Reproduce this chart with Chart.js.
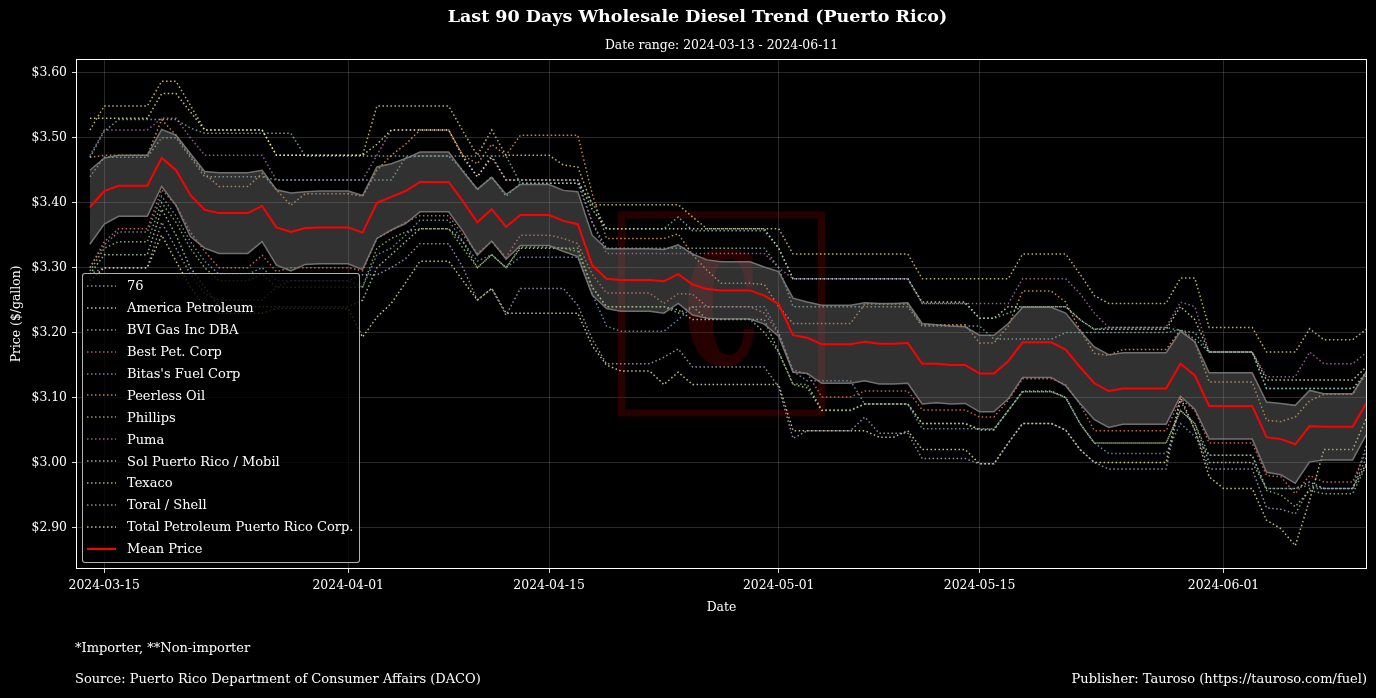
<!DOCTYPE html>
<html>
<head>
<meta charset="utf-8">
<title>Last 90 Days Wholesale Diesel Trend (Puerto Rico)</title>
<script src="https://cdn.jsdelivr.net/npm/chart.js@4.4.1/dist/chart.umd.min.js"></script>
<style>
  html, body { margin: 0; padding: 0; background: #000; }
  #wrap { position: relative; width: 1376px; height: 698px; background: #000; overflow: hidden; }
  #chart { position: absolute; left: 0; top: 0; }
  .note { position: absolute; color: #fff; font: 13px 'DejaVu Serif', serif; line-height: 15px; white-space: nowrap; }
  #legend {
    position: absolute; box-sizing: border-box; width: 278px;
    background: rgba(0, 0, 0, 0.8); border: 1px solid rgba(220, 220, 220, 0.8); border-radius: 3px;
    padding: 1px 0 2px 0; color: #fff; font: 13px 'DejaVu Serif', serif;
  }
  #legend .row { display: flex; align-items: center; height: 21.9px; white-space: nowrap; }
  #legend svg { margin-left: 4px; margin-right: 11px; flex: none; }
</style>
</head>
<body>
<div id="wrap">
  <canvas id="chart" width="1376" height="698"></canvas>
  <div id="legend"></div>
  <div class="note" style="left:75px; top:640px;">*Importer, **Non-importer</div>
  <div class="note" style="left:75px; top:671px;">Source: Puerto Rico Department of Consumer Affairs (DACO)</div>
  <div class="note" style="right:9px; top:671px;">Publisher: Tauroso (https://tauroso.com/fuel)</div>
</div>
<script>
// day 0 = 2024-03-14, one value per day up to 2024-06-11
const tickDays = [1, 18, 32, 48, 62, 79];
const tickLabels = ['2024-03-15', '2024-04-01', '2024-04-15', '2024-05-01', '2024-05-15', '2024-06-01'];

const seriesNames = ['76', 'America Petroleum', 'BVI Gas Inc DBA', 'Best Pet. Corp', "Bitas's Fuel Corp",
    'Peerless Oil', 'Phillips', 'Puma', 'Sol Puerto Rico / Mobil', 'Texaco', 'Toral / Shell',
    'Total Petroleum Puerto Rico Corp.'];
const palette = ['#8dd3c7', '#ffffb3', '#bebada', '#fb8072', '#80b1d3', '#fdb462', '#b3de69', '#bc80bd', '#ccebc5', '#ffed6f'];

const price76 = [
    3.470, 3.510, 3.528, 3.528, 3.528, 3.528, 3.528, 3.515, 3.507, 3.507,
    3.507, 3.507, 3.507, 3.507, 3.507, 3.472, 3.472, 3.472, 3.472, 3.472,
    3.472, 3.472, 3.472, 3.472, 3.472, 3.472, 3.472, 3.472, 3.472, 3.472,
    3.430, 3.430, 3.430, 3.430, 3.430, 3.400, 3.360, 3.360, 3.360, 3.360,
    3.360, 3.378, 3.357, 3.357, 3.357, 3.357, 3.357, 3.357, 3.330, 3.283,
    3.283, 3.283, 3.283, 3.283, 3.283, 3.283, 3.283, 3.283, 3.245, 3.245,
    3.245, 3.245, 3.222, 3.222, 3.230, 3.240, 3.240, 3.240, 3.240, 3.220,
    3.205, 3.208, 3.208, 3.208, 3.208, 3.208, 3.203, 3.200, 3.170, 3.170,
    3.170, 3.170, 3.114, 3.114, 3.114, 3.114, 3.114, 3.114, 3.114, 3.135];
const priceAmerica = [
    3.530, 3.530, 3.530, 3.530, 3.530, 3.568, 3.568, 3.540, 3.512, 3.512,
    3.512, 3.512, 3.512, 3.473, 3.473, 3.473, 3.473, 3.473, 3.473, 3.473,
    3.490, 3.512, 3.512, 3.512, 3.512, 3.512, 3.470, 3.440, 3.470, 3.435,
    3.435, 3.435, 3.435, 3.435, 3.435, 3.390, 3.360, 3.360, 3.360, 3.360,
    3.360, 3.360, 3.360, 3.360, 3.360, 3.360, 3.360, 3.360, 3.330, 3.283,
    3.283, 3.283, 3.283, 3.283, 3.283, 3.283, 3.283, 3.283, 3.247, 3.247,
    3.247, 3.247, 3.222, 3.222, 3.240, 3.240, 3.240, 3.240, 3.240, 3.220,
    3.205, 3.205, 3.205, 3.205, 3.205, 3.205, 3.240, 3.220, 3.170, 3.170,
    3.170, 3.170, 3.127, 3.127, 3.127, 3.127, 3.127, 3.127, 3.127, 3.148];
const priceBvi = [
    3.290, 3.300, 3.300, 3.300, 3.300, 3.370, 3.330, 3.290, 3.260, 3.250,
    3.250, 3.250, 3.250, 3.270, 3.280, 3.280, 3.280, 3.280, 3.280, 3.289,
    3.289, 3.300, 3.314, 3.337, 3.337, 3.337, 3.300, 3.250, 3.268, 3.227,
    3.268, 3.268, 3.268, 3.268, 3.242, 3.190, 3.152, 3.152, 3.152, 3.152,
    3.162, 3.175, 3.147, 3.147, 3.147, 3.147, 3.147, 3.147, 3.116, 3.037,
    3.049, 3.049, 3.049, 3.049, 3.070, 3.045, 3.045, 3.045, 3.006, 3.006,
    3.006, 3.006, 2.998, 2.998, 3.030, 3.060, 3.060, 3.060, 3.050, 3.020,
    3.000, 2.990, 2.990, 2.990, 2.990, 2.990, 3.096, 3.050, 2.990, 2.990,
    2.990, 2.990, 2.930, 2.928, 2.921, 2.960, 2.960, 2.960, 2.960, 3.010];
const priceBest = [
    3.300, 3.340, 3.360, 3.360, 3.360, 3.420, 3.396, 3.355, 3.325, 3.300,
    3.300, 3.300, 3.319, 3.294, 3.300, 3.300, 3.300, 3.300, 3.300, 3.295,
    3.345, 3.357, 3.370, 3.380, 3.380, 3.380, 3.350, 3.322, 3.340, 3.316,
    3.350, 3.350, 3.350, 3.345, 3.337, 3.290, 3.261, 3.261, 3.261, 3.261,
    3.245, 3.260, 3.259, 3.240, 3.240, 3.240, 3.240, 3.230, 3.198, 3.142,
    3.137, 3.101, 3.101, 3.101, 3.110, 3.110, 3.110, 3.110, 3.081, 3.081,
    3.081, 3.081, 3.070, 3.070, 3.096, 3.129, 3.129, 3.129, 3.120, 3.090,
    3.049, 3.049, 3.049, 3.049, 3.049, 3.049, 3.098, 3.080, 3.030, 3.030,
    3.030, 3.030, 2.980, 2.978, 2.952, 2.980, 2.970, 2.970, 2.970, 3.020];
const priceBitas = [
    3.300, 3.335, 3.355, 3.355, 3.355, 3.410, 3.380, 3.340, 3.310, 3.290,
    3.290, 3.290, 3.300, 3.280, 3.280, 3.280, 3.280, 3.280, 3.280, 3.270,
    3.320, 3.330, 3.350, 3.373, 3.373, 3.373, 3.340, 3.310, 3.320, 3.300,
    3.316, 3.316, 3.316, 3.316, 3.316, 3.260, 3.210, 3.202, 3.202, 3.202,
    3.202, 3.220, 3.240, 3.240, 3.240, 3.240, 3.240, 3.240, 3.200, 3.140,
    3.126, 3.126, 3.126, 3.126, 3.090, 3.090, 3.090, 3.090, 3.052, 3.052,
    3.052, 3.052, 3.052, 3.052, 3.080, 3.109, 3.109, 3.109, 3.100, 3.060,
    3.030, 3.014, 3.014, 3.014, 3.014, 3.014, 3.060, 3.040, 3.011, 3.011,
    3.011, 3.011, 2.960, 2.960, 2.960, 2.965, 2.960, 2.960, 2.960, 3.030];
const pricePeerless = [
    3.470, 3.473, 3.473, 3.473, 3.473, 3.528, 3.504, 3.473, 3.445, 3.425,
    3.425, 3.425, 3.445, 3.420, 3.396, 3.414, 3.414, 3.414, 3.414, 3.410,
    3.450, 3.473, 3.490, 3.512, 3.512, 3.512, 3.473, 3.460, 3.490, 3.473,
    3.504, 3.504, 3.504, 3.504, 3.504, 3.414, 3.345, 3.345, 3.345, 3.345,
    3.345, 3.352, 3.320, 3.296, 3.276, 3.276, 3.276, 3.274, 3.240, 3.214,
    3.214, 3.214, 3.214, 3.214, 3.244, 3.244, 3.244, 3.244, 3.212, 3.212,
    3.212, 3.212, 3.184, 3.184, 3.210, 3.264, 3.264, 3.264, 3.247, 3.204,
    3.168, 3.165, 3.174, 3.174, 3.174, 3.174, 3.204, 3.186, 3.124, 3.124,
    3.124, 3.124, 3.065, 3.063, 3.070, 3.095, 3.105, 3.105, 3.105, 3.142];
const pricePhillips = [
    3.295, 3.330, 3.340, 3.340, 3.340, 3.400, 3.370, 3.330, 3.300, 3.280,
    3.280, 3.280, 3.290, 3.270, 3.270, 3.270, 3.270, 3.270, 3.270, 3.270,
    3.330, 3.345, 3.355, 3.360, 3.360, 3.360, 3.330, 3.300, 3.320, 3.300,
    3.332, 3.332, 3.332, 3.330, 3.325, 3.270, 3.240, 3.240, 3.240, 3.240,
    3.240, 3.230, 3.240, 3.221, 3.221, 3.221, 3.221, 3.200, 3.170, 3.121,
    3.120, 3.081, 3.081, 3.081, 3.090, 3.090, 3.090, 3.090, 3.060, 3.060,
    3.060, 3.060, 3.051, 3.051, 3.080, 3.109, 3.109, 3.109, 3.100, 3.060,
    3.030, 3.030, 3.030, 3.030, 3.030, 3.030, 3.080, 3.060, 3.011, 3.011,
    3.011, 3.011, 2.957, 2.950, 2.932, 2.957, 2.952, 2.952, 2.952, 2.998];
const pricePuma = [
    3.473, 3.512, 3.512, 3.512, 3.512, 3.530, 3.530, 3.500, 3.473, 3.473,
    3.473, 3.473, 3.473, 3.435, 3.435, 3.435, 3.435, 3.435, 3.435, 3.435,
    3.473, 3.512, 3.512, 3.512, 3.512, 3.512, 3.473, 3.440, 3.473, 3.435,
    3.435, 3.435, 3.435, 3.435, 3.435, 3.370, 3.322, 3.322, 3.322, 3.322,
    3.322, 3.322, 3.322, 3.322, 3.322, 3.322, 3.322, 3.322, 3.300, 3.283,
    3.283, 3.283, 3.283, 3.283, 3.283, 3.283, 3.283, 3.283, 3.245, 3.245,
    3.245, 3.245, 3.245, 3.245, 3.245, 3.283, 3.283, 3.283, 3.283, 3.260,
    3.230, 3.208, 3.208, 3.208, 3.208, 3.208, 3.247, 3.240, 3.170, 3.170,
    3.170, 3.170, 3.132, 3.132, 3.132, 3.170, 3.152, 3.152, 3.152, 3.170];
const priceSol = [
    3.290, 3.320, 3.320, 3.320, 3.320, 3.390, 3.350, 3.300, 3.270, 3.240,
    3.240, 3.240, 3.240, 3.240, 3.240, 3.240, 3.240, 3.240, 3.240, 3.250,
    3.300, 3.320, 3.340, 3.360, 3.360, 3.360, 3.340, 3.300, 3.320, 3.300,
    3.330, 3.330, 3.330, 3.330, 3.330, 3.270, 3.240, 3.240, 3.240, 3.240,
    3.240, 3.235, 3.220, 3.220, 3.220, 3.220, 3.220, 3.220, 3.170, 3.120,
    3.115, 3.080, 3.080, 3.080, 3.090, 3.090, 3.090, 3.090, 3.060, 3.060,
    3.060, 3.060, 3.050, 3.050, 3.080, 3.110, 3.110, 3.110, 3.100, 3.060,
    3.030, 3.030, 3.030, 3.030, 3.030, 3.030, 3.080, 3.060, 3.000, 3.000,
    3.000, 3.000, 2.960, 2.960, 2.960, 2.970, 2.960, 2.960, 2.960, 3.000];
const priceTexaco = [
    3.512, 3.549, 3.549, 3.549, 3.549, 3.587, 3.587, 3.550, 3.512, 3.512,
    3.512, 3.512, 3.512, 3.473, 3.473, 3.473, 3.473, 3.473, 3.473, 3.473,
    3.549, 3.549, 3.549, 3.549, 3.549, 3.549, 3.510, 3.473, 3.512, 3.473,
    3.473, 3.473, 3.473, 3.458, 3.455, 3.397, 3.397, 3.397, 3.397, 3.397,
    3.397, 3.397, 3.378, 3.360, 3.360, 3.360, 3.360, 3.360, 3.360, 3.321,
    3.321, 3.321, 3.321, 3.321, 3.321, 3.321, 3.321, 3.321, 3.283, 3.283,
    3.283, 3.283, 3.283, 3.283, 3.283, 3.321, 3.321, 3.321, 3.321, 3.290,
    3.257, 3.245, 3.245, 3.245, 3.245, 3.245, 3.284, 3.284, 3.208, 3.208,
    3.208, 3.208, 3.170, 3.170, 3.170, 3.206, 3.189, 3.189, 3.189, 3.206];
const priceToral = [
    3.440, 3.470, 3.470, 3.470, 3.470, 3.500, 3.500, 3.470, 3.440, 3.440,
    3.440, 3.440, 3.440, 3.435, 3.435, 3.435, 3.435, 3.435, 3.435, 3.435,
    3.435, 3.435, 3.470, 3.472, 3.472, 3.472, 3.450, 3.420, 3.440, 3.410,
    3.430, 3.430, 3.430, 3.430, 3.430, 3.370, 3.330, 3.330, 3.330, 3.330,
    3.330, 3.330, 3.330, 3.330, 3.330, 3.330, 3.330, 3.330, 3.300, 3.240,
    3.240, 3.240, 3.240, 3.240, 3.240, 3.240, 3.240, 3.240, 3.210, 3.210,
    3.210, 3.210, 3.210, 3.190, 3.190, 3.190, 3.190, 3.190, 3.200, 3.200,
    3.200, 3.200, 3.200, 3.200, 3.200, 3.200, 3.205, 3.190, 3.170, 3.170,
    3.170, 3.170, 3.114, 3.114, 3.114, 3.114, 3.114, 3.114, 3.114, 3.140];
const priceTotal = [
    3.280, 3.300, 3.300, 3.300, 3.300, 3.350, 3.310, 3.270, 3.240, 3.230,
    3.230, 3.230, 3.230, 3.237, 3.237, 3.237, 3.237, 3.237, 3.237, 3.193,
    3.224, 3.245, 3.277, 3.310, 3.310, 3.310, 3.280, 3.250, 3.268, 3.230,
    3.230, 3.230, 3.230, 3.230, 3.230, 3.180, 3.150, 3.141, 3.141, 3.141,
    3.120, 3.139, 3.120, 3.120, 3.120, 3.120, 3.120, 3.120, 3.120, 3.049,
    3.049, 3.049, 3.049, 3.049, 3.049, 3.039, 3.039, 3.049, 3.020, 3.020,
    3.020, 3.020, 2.998, 2.998, 3.030, 3.060, 3.060, 3.060, 3.050, 3.020,
    3.000, 3.000, 3.000, 3.000, 3.000, 3.000, 3.101, 3.050, 2.978, 2.960,
    2.960, 2.960, 2.911, 2.898, 2.872, 2.942, 3.020, 3.020, 3.020, 3.070];

const meanPrice = [
    3.393, 3.418, 3.426, 3.426, 3.426, 3.469, 3.450, 3.412, 3.389, 3.384,
    3.384, 3.384, 3.395, 3.362, 3.355, 3.361, 3.362, 3.362, 3.362, 3.354,
    3.400, 3.409, 3.418, 3.432, 3.432, 3.432, 3.402, 3.370, 3.390, 3.363,
    3.381, 3.381, 3.381, 3.372, 3.367, 3.304, 3.283, 3.281, 3.281, 3.281,
    3.279, 3.290, 3.274, 3.267, 3.265, 3.265, 3.265, 3.257, 3.244, 3.196,
    3.192, 3.182, 3.182, 3.182, 3.186, 3.183, 3.183, 3.184, 3.152, 3.152,
    3.150, 3.150, 3.137, 3.137, 3.156, 3.185, 3.185, 3.185, 3.174, 3.147,
    3.122, 3.110, 3.114, 3.114, 3.114, 3.114, 3.152, 3.134, 3.087, 3.087,
    3.087, 3.087, 3.039, 3.036, 3.028, 3.056, 3.055, 3.055, 3.055, 3.093];
const stdPrice = [
    0.057, 0.051, 0.047, 0.047, 0.047, 0.044, 0.054, 0.064, 0.059, 0.062,
    0.062, 0.062, 0.055, 0.058, 0.060, 0.056, 0.056, 0.056, 0.056, 0.057,
    0.055, 0.051, 0.050, 0.046, 0.046, 0.046, 0.046, 0.051, 0.049, 0.050,
    0.047, 0.047, 0.047, 0.047, 0.050, 0.046, 0.046, 0.048, 0.048, 0.048,
    0.049, 0.045, 0.047, 0.045, 0.044, 0.044, 0.044, 0.044, 0.050, 0.057,
    0.055, 0.060, 0.060, 0.060, 0.060, 0.062, 0.062, 0.062, 0.062, 0.060,
    0.060, 0.059, 0.059, 0.059, 0.058, 0.054, 0.054, 0.054, 0.056, 0.056,
    0.056, 0.056, 0.055, 0.055, 0.055, 0.055, 0.050, 0.052, 0.051, 0.051,
    0.051, 0.051, 0.054, 0.055, 0.060, 0.055, 0.051, 0.051, 0.051, 0.048];

const seriesValues = [price76, priceAmerica, priceBvi, priceBest, priceBitas, pricePeerless,
    pricePhillips, pricePuma, priceSol, priceTexaco, priceToral, priceTotal];

const SERIF = "'DejaVu Serif', serif";

function withAlpha(hex, a) {
    const n = parseInt(hex.slice(1), 16);
    return `rgba(${(n >> 16) & 255}, ${(n >> 8) & 255}, ${n & 255}, ${a})`;
}
const toPoints = (values) => values.map((v, i) => ({ x: i, y: v }));

const seriesColors = seriesNames.map((_, i) => withAlpha(palette[i % palette.length], 0.75));

const datasets = [
    {
        label: 'Mean Price',
        data: toPoints(meanPrice),
        borderColor: '#ff0000',
        borderWidth: 2,
        order: 0
    },
    {
        label: 'band upper',
        data: toPoints(meanPrice.map((m, i) => m + stdPrice[i])),
        borderColor: 'rgba(128, 128, 128, 0.85)',
        borderWidth: 1.5,
        backgroundColor: 'rgba(128, 128, 128, 0.38)',
        fill: '+1',
        order: 1
    },
    {
        label: 'band lower',
        data: toPoints(meanPrice.map((m, i) => m - stdPrice[i])),
        borderColor: 'rgba(128, 128, 128, 0.85)',
        borderWidth: 1.5,
        order: 1
    }
];
seriesNames.forEach((name, i) => {
    datasets.push({
        label: name,
        data: toPoints(seriesValues[i]),
        borderColor: seriesColors[i],
        borderWidth: 1.5,
        borderDash: [1.5, 2.5],
        order: 2
    });
});

// faint logo behind the data, centred in the plot
const watermark = {
    id: 'watermark',
    beforeDatasetsDraw(chart) {
        const { ctx, chartArea: a } = chart;
        const cx = (a.left + a.right) / 2;
        const cy = (a.top + a.bottom) / 2;
        ctx.save();
        ctx.strokeStyle = 'rgba(140, 0, 0, 0.28)';
        ctx.fillStyle = 'rgba(140, 0, 0, 0.28)';
        ctx.lineWidth = 7;
        ctx.strokeRect(cx - 100, cy - 99, 200, 198);
        ctx.translate(cx, cy);
        ctx.scale(0.58, 1);
        ctx.font = `bold 220px ${SERIF}`;
        ctx.textAlign = 'center';
        ctx.textBaseline = 'alphabetic';
        ctx.fillText('c', 0, 50);
        ctx.restore();
    }
};

// white box round the plot
const frame = {
    id: 'frame',
    afterDatasetsDraw(chart) {
        const { ctx, chartArea: a } = chart;
        ctx.save();
        ctx.strokeStyle = '#ffffff';
        ctx.lineWidth = 1;
        ctx.strokeRect(Math.round(a.left) + 0.5, Math.round(a.top) + 0.5,
            Math.round(a.right - a.left) - 1, Math.round(a.bottom - a.top) - 1);
        ctx.restore();
    }
};

const chart = new Chart(document.getElementById('chart'), {
    type: 'line',
    data: { datasets },
    plugins: [watermark, frame],
    options: {
        responsive: false,
        animation: false,
        devicePixelRatio: 1,
        elements: { point: { radius: 0 }, line: { tension: 0 } },
        layout: { padding: { left: 28, right: 9, top: 0, bottom: 81 } },
        plugins: {
            legend: { display: false },
            tooltip: { enabled: false },
            title: {
                display: true,
                text: 'Last 90 Days Wholesale Diesel Trend (Puerto Rico)',
                color: '#ffffff',
                font: { family: SERIF, size: 17.5, weight: 'bold' },
                padding: { top: 7, bottom: 3 }
            },
            subtitle: {
                display: true,
                fullSize: false,
                text: 'Date range: 2024-03-13 - 2024-06-11',
                color: '#ffffff',
                font: { family: SERIF, size: 12.4 },
                padding: { top: 7, bottom: 6 }
            }
        },
        scales: {
            x: {
                type: 'linear',
                min: -0.97,
                max: 89,
                afterBuildTicks: (axis) => { axis.ticks = tickDays.map((d) => ({ value: d })); },
                afterFit: (axis) => { axis.height = 48; },
                ticks: {
                    color: '#ffffff',
                    font: { family: SERIF, size: 12.4 },
                    padding: 5,
                    maxRotation: 0,
                    autoSkip: false,
                    callback: (v) => tickLabels[tickDays.indexOf(v)]
                },
                grid: { color: 'rgba(255, 255, 255, 0.16)', tickColor: '#dddddd', tickLength: 4 },
                border: { display: false },
                title: {
                    display: true,
                    text: 'Date',
                    color: '#ffffff',
                    font: { family: SERIF, size: 12.4 },
                    padding: { top: 4, bottom: 2 }
                }
            },
            y: {
                min: 2.836,
                max: 3.6215,
                afterFit: (axis) => { axis.width = 48; },
                ticks: {
                    stepSize: 0.1,
                    includeBounds: false,
                    color: '#ffffff',
                    font: { family: SERIF, size: 12.4 },
                    padding: 5,
                    callback: (v) => '$' + v.toFixed(2)
                },
                grid: { color: 'rgba(255, 255, 255, 0.16)', tickColor: '#dddddd', tickLength: 4 },
                border: { display: false },
                title: {
                    display: true,
                    text: 'Price ($/gallon)',
                    color: '#ffffff',
                    font: { family: SERIF, size: 12.4 },
                    padding: { top: -19, bottom: 0 }
                }
            }
        }
    }
});

// legend box in the lower left corner of the plot
const legendEl = document.getElementById('legend');
function legendRow(color, label, dashed) {
    const row = document.createElement('div');
    row.className = 'row';
    const dash = dashed ? 'stroke-dasharray="1.5 2.5"' : '';
    const width = dashed ? 1.5 : 2;
    row.innerHTML = `<svg width="29" height="6"><line x1="0" y1="3" x2="29" y2="3" stroke="${color}" stroke-width="${width}" ${dash}/></svg>`;
    const span = document.createElement('span');
    span.textContent = label;
    row.appendChild(span);
    legendEl.appendChild(row);
}
seriesNames.forEach((name, i) => legendRow(seriesColors[i], name, true));
legendRow('#ff0000', 'Mean Price', false);

const area = chart.chartArea;
legendEl.style.left = (area.left + 6) + 'px';
legendEl.style.top = (area.bottom - 6 - legendEl.offsetHeight) + 'px';
</script>
</body>
</html>
